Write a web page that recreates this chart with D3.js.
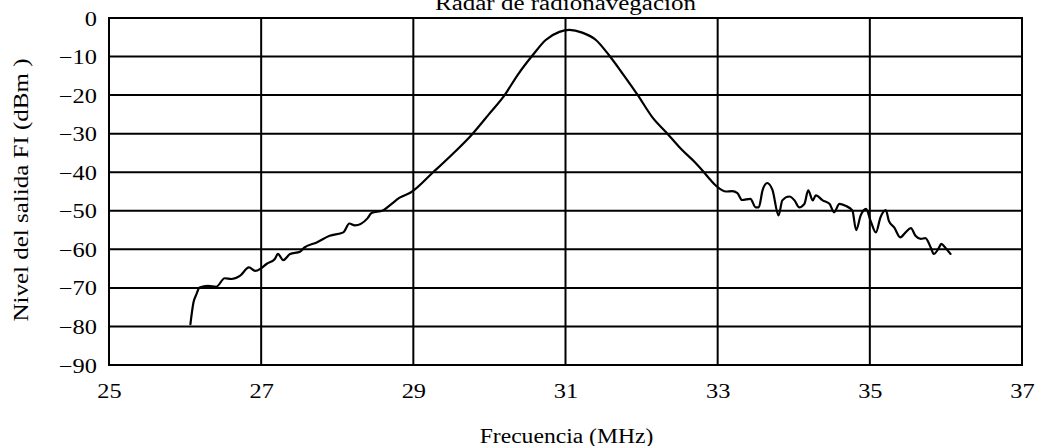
<!DOCTYPE html>
<html>
<head>
<meta charset="utf-8">
<script src="https://cdn.jsdelivr.net/npm/d3@7"></script>
<style>
html,body{margin:0;padding:0;background:#fff;}
svg{display:block;}
text{font-family:"Liberation Serif","Times New Roman",serif;fill:#000;}
</style>
</head>
<body>
<svg id="chart" width="1038" height="446"></svg>
<script>
const title = "Radar de radionavegación";
const xLabel = "Frecuencia (MHz)";
const yLabel = "Nivel del salida FI (dBm )";
const xTicks = [25, 27, 29, 31, 33, 35, 37];
const yTicks = [0, -10, -20, -30, -40, -50, -60, -70, -80, -90];

const freq = [
  26.07, 26.11, 26.15, 26.19, 26.30, 26.41, 26.52, 26.61, 26.72, 26.84,
  26.92, 27.00, 27.07, 27.18, 27.22, 27.29, 27.38, 27.51, 27.57, 27.73,
  27.90, 28.08, 28.16, 28.23, 28.40, 28.45, 28.60, 28.69, 28.82, 28.97,
  29.26, 29.52, 29.78, 30.00, 30.20, 30.37, 30.57, 30.74, 30.92, 31.05,
  31.22, 31.40, 31.57, 31.75, 31.95, 32.14, 32.34, 32.52, 32.71, 32.82,
  32.91, 32.99, 33.11, 33.19, 33.26, 33.32, 33.43, 33.50, 33.54, 33.59,
  33.65, 33.72, 33.80, 33.85, 33.94, 34.01, 34.07, 34.14, 34.19, 34.25,
  34.29, 34.38, 34.47, 34.53, 34.60, 34.68, 34.77, 34.82, 34.88, 34.95,
  35.01, 35.08, 35.14, 35.21, 35.25, 35.32, 35.40, 35.47, 35.54, 35.60,
  35.67, 35.73, 35.80, 35.84, 35.90, 35.94, 35.99, 36.06
];
const level = [
  -79.4, -73.8, -71.6, -69.9, -69.5, -69.7, -67.5, -67.7, -66.9, -64.7,
  -65.6, -64.9, -63.8, -62.5, -61.2, -62.8, -61.2, -60.6, -59.5, -58.2,
  -56.5, -55.6, -53.3, -53.8, -51.9, -50.6, -49.9, -48.6, -46.6, -45.2,
  -40.0, -35.2, -30.0, -24.8, -20.0, -14.8, -9.6, -5.7, -3.6, -3.1,
  -3.8, -5.7, -9.6, -14.4, -20.0, -25.7, -30.0, -34.0, -37.6, -40.0,
  -42.1, -43.7, -45.0, -44.9, -45.4, -47.2, -46.9, -49.1, -49.1, -44.7,
  -42.8, -44.6, -51.2, -47.3, -46.3, -47.3, -49.1, -48.2, -44.7, -47.3,
  -46.0, -47.3, -48.2, -50.4, -48.2, -48.7, -49.9, -55.0, -51.2, -49.5,
  -52.6, -55.6, -51.7, -49.8, -52.6, -54.3, -56.9, -55.6, -54.5, -56.5,
  -57.3, -57.1, -59.5, -61.2, -59.9, -58.6, -59.5, -61.2
];

const svg = d3.select("#chart");
const L = 109, R = 1022, T = 18, B = 365;
const x = d3.scaleLinear().domain([25, 37]).range([L, R]);
const y = d3.scaleLinear().domain([-90, 0]).range([B, T]);
const FS = 20;

function stretch(k){
  return function(sel){
    sel.each(function(){
      const n = this.getComputedTextLength();
      this.setAttribute("textLength", n * k);
      this.setAttribute("lengthAdjust", "spacingAndGlyphs");
    });
  };
}

// grid
const g = svg.append("g");
g.selectAll("line.v").data(xTicks.slice(1, -1)).enter().append("line")
  .attr("x1", d => x(d)).attr("x2", d => x(d)).attr("y1", T).attr("y2", B)
  .attr("stroke", "#000").attr("stroke-width", 2);
g.selectAll("line.h").data(yTicks.slice(1, -1)).enter().append("line")
  .attr("x1", L).attr("x2", R).attr("y1", d => y(d)).attr("y2", d => y(d))
  .attr("stroke", "#000").attr("stroke-width", 2);
g.append("rect").attr("x", L).attr("y", T).attr("width", R - L).attr("height", B - T)
  .attr("fill", "none").attr("stroke", "#000").attr("stroke-width", 2);

const xAxis = svg.append("g").attr("transform", `translate(0,${B})`)
  .call(d3.axisBottom(x).tickValues(xTicks).tickSize(0).tickPadding(0).tickFormat(d3.format("d")));
xAxis.select(".domain").remove();
xAxis.selectAll("text").attr("font-size", FS).attr("font-family", "Liberation Serif")
  .attr("dy", null).attr("y", 33).call(stretch(1.22));

const yAxis = svg.append("g").attr("transform", `translate(${L},0)`)
  .call(d3.axisLeft(y).tickValues(yTicks).tickSize(0).tickPadding(0)
    .tickFormat(d => d === 0 ? "0" : "\u2212" + Math.abs(d)));
yAxis.select(".domain").remove();
yAxis.selectAll("text").attr("font-size", FS).attr("font-family", "Liberation Serif")
  .attr("dy", null).attr("x", -12).attr("y", 7).call(stretch(1.22));

const data = freq.map((f, i) => [f, level[i]]);
svg.append("path").datum(data)
  .attr("fill", "none").attr("stroke", "#000").attr("stroke-width", 2.2)
  .attr("stroke-linejoin", "round").attr("stroke-linecap", "round")
  .attr("d", d3.line().x(d => x(d[0])).y(d => y(d[1])).curve(d3.curveMonotoneX));

svg.append("text").attr("x", (L + R) / 2).attr("y", 9.5).attr("text-anchor", "middle")
  .attr("font-size", FS).text(title).call(stretch(1.25));
svg.append("text").attr("x", (L + R) / 2 + 1).attr("y", 443).attr("text-anchor", "middle")
  .attr("font-size", FS).text(xLabel).call(stretch(1.18));
svg.append("text").attr("transform", `translate(28,190) rotate(-90)`).attr("text-anchor", "middle")
  .attr("font-size", FS).text(yLabel).call(stretch(1.25));
</script>
</body>
</html>
